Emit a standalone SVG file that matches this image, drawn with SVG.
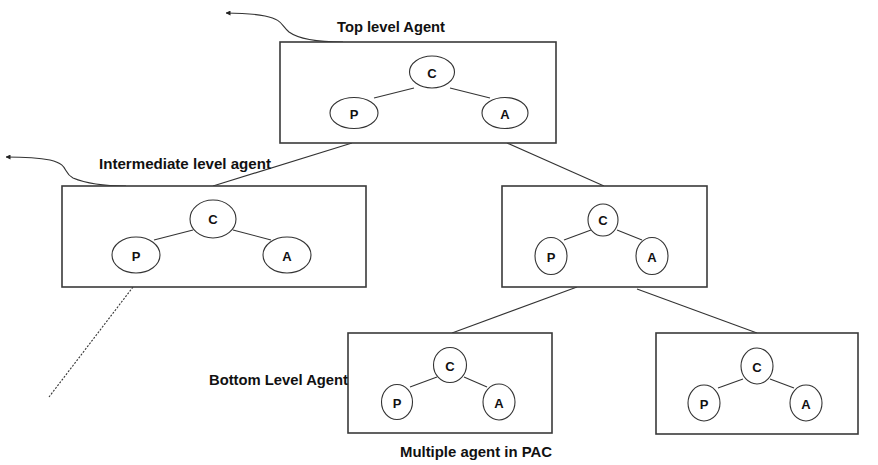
<svg xmlns="http://www.w3.org/2000/svg" width="878" height="465" viewBox="0 0 878 465">
<defs>
<marker id="ah" viewBox="0 0 10 10" refX="9" refY="5" markerWidth="5" markerHeight="5" orient="auto-start-reverse" markerUnits="userSpaceOnUse">
<path d="M0,0 L10,5 L0,10 z" fill="#222"/>
</marker>
<style>
.box{fill:#fff;stroke:#3a3a3a;stroke-width:1.6}
.el{fill:#fff;stroke:#333;stroke-width:1.1}
.ln{stroke:#333;stroke-width:1.1;fill:none}
.lt{font-family:"Liberation Sans",Arial,sans-serif;font-weight:bold;font-size:13px;fill:#111;text-anchor:middle;dominant-baseline:central}
.lab{font-family:"Liberation Sans",Arial,sans-serif;font-weight:bold;font-size:14px;fill:#111}
</style>
</defs>
<rect width="878" height="465" fill="#fff"/>

<g id="connectors">
<line class="ln" x1="352" y1="143" x2="213" y2="186"/>
<line class="ln" x1="507" y1="143" x2="604" y2="186"/>
<line class="ln" x1="133" y1="287" x2="49" y2="397" stroke-dasharray="2,1.5" stroke-width="0.9"/>
<line class="ln" x1="577" y1="287" x2="452" y2="333"/>
<line class="ln" x1="637" y1="289" x2="757" y2="333"/>
<path class="ln" d="M343,42 C320,42 300,40 289,32 C280,24 283,20 265,16 C250,13 240,13 226,13" marker-end="url(#ah)"/>
<path class="ln" d="M126,186 C105,186 85,183 73,178 C62,172 70,165 50,160 C35,157 20,157 6,157" marker-end="url(#ah)"/>
</g>

<g id="top-agent">
<rect class="box" x="280" y="42" width="276" height="101"/>
<line class="ln" x1="374" y1="98" x2="414" y2="88"/>
<line class="ln" x1="450" y1="88" x2="490" y2="98"/>
<ellipse class="el" cx="432" cy="72" rx="22.5" ry="16"/>
<ellipse class="el" cx="354" cy="113" rx="24" ry="15.5"/>
<ellipse class="el" cx="505" cy="113" rx="23" ry="15.5"/>
<text class="lt" x="432" y="73">C</text>
<text class="lt" x="354" y="114">P</text>
<text class="lt" x="505" y="114">A</text>
<text class="lab" x="337" y="32" textLength="108" lengthAdjust="spacingAndGlyphs">Top level Agent</text>
</g>

<g id="intermediate-agent">
<rect class="box" x="62" y="186" width="304" height="101"/>
<line class="ln" x1="154" y1="240" x2="193" y2="230"/>
<line class="ln" x1="233" y1="230" x2="271" y2="240"/>
<ellipse class="el" cx="213" cy="219" rx="23" ry="19"/>
<ellipse class="el" cx="136" cy="255" rx="24" ry="18"/>
<ellipse class="el" cx="287" cy="255" rx="24" ry="18"/>
<text class="lt" x="213" y="219">C</text>
<text class="lt" x="136" y="256">P</text>
<text class="lt" x="287" y="256">A</text>
<text class="lab" x="99" y="169" textLength="172" lengthAdjust="spacingAndGlyphs">Intermediate level agent</text>
</g>

<g id="intermediate-agent-2">
<rect class="box" x="502" y="186" width="205" height="101"/>
<line class="ln" x1="564" y1="240" x2="591" y2="230"/>
<line class="ln" x1="617" y1="230" x2="642" y2="240"/>
<ellipse class="el" cx="603" cy="220" rx="15" ry="16"/>
<ellipse class="el" cx="551" cy="256" rx="16" ry="18.5"/>
<ellipse class="el" cx="652" cy="256" rx="16" ry="18.5"/>
<text class="lt" x="603" y="220">C</text>
<text class="lt" x="551" y="257">P</text>
<text class="lt" x="652" y="257">A</text>
</g>

<g id="bottom-agent-1">
<rect class="box" x="348" y="333" width="204" height="100"/>
<line class="ln" x1="410" y1="387" x2="437" y2="377"/>
<line class="ln" x1="464" y1="377" x2="487" y2="387"/>
<ellipse class="el" cx="450" cy="365" rx="16.5" ry="17.5"/>
<ellipse class="el" cx="397" cy="402" rx="15.5" ry="17.5"/>
<ellipse class="el" cx="499" cy="402" rx="16" ry="18"/>
<text class="lt" x="450" y="366">C</text>
<text class="lt" x="397" y="403">P</text>
<text class="lt" x="499" y="403">A</text>
<text class="lab" x="209" y="385" textLength="139" lengthAdjust="spacingAndGlyphs">Bottom Level Agent</text>
<text class="lab" x="400" y="457" textLength="152" lengthAdjust="spacingAndGlyphs">Multiple agent in PAC</text>
</g>

<g id="bottom-agent-2">
<rect class="box" x="656" y="333" width="202" height="101"/>
<line class="ln" x1="718" y1="388" x2="743" y2="379"/>
<line class="ln" x1="770" y1="379" x2="794" y2="388"/>
<ellipse class="el" cx="757" cy="366" rx="16" ry="18"/>
<ellipse class="el" cx="704" cy="403" rx="16" ry="18"/>
<ellipse class="el" cx="806" cy="403" rx="16" ry="18"/>
<text class="lt" x="757" y="367">C</text>
<text class="lt" x="704" y="404">P</text>
<text class="lt" x="806" y="404">A</text>
</g>
</svg>
